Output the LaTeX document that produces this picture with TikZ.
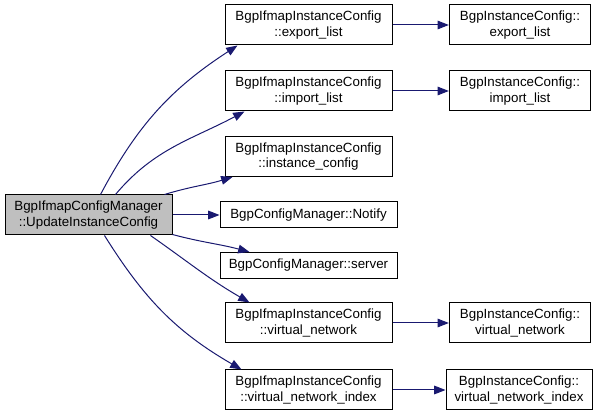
\documentclass[tikz,border=0pt]{standalone}
\usepackage{fontspec}
\setmainfont{Liberation Sans}
\usepackage{tikz}
\usetikzlibrary{positioning,arrows.meta,calc}

\definecolor{edgeblue}{HTML}{191970}
\definecolor{rootgray}{HTML}{BFBFBF}

\begin{document}
\begin{tikzpicture}[
		x=0.75pt,y=-0.75pt,
		font=\fontsize{10pt}{11.5pt}\selectfont,
		fn/.style={
			draw,
			line width=0.75pt,
			align=center,
			inner sep=0pt,
			minimum width=125.25pt,
			minimum height=30pt
		},
		fnwide/.style={fn,minimum width=132.75pt,minimum height=19.5pt},
		fnright/.style={fn,minimum width=106pt},
		call/.style={
			draw=edgeblue,
			line width=0.75pt,
			-{Triangle[length=8.5pt,width=6.5pt,fill=edgeblue]}
		}
		]
		
		\useasboundingbox (0,0) rectangle (600,416);
		
		\node[fn,fill=rootgray] (root) at (88.5,215)
		{BgpIfmapConfigManager\\::UpdateInstanceConfig};
		
		\node[fn] (el) at (308.5,25)
		{BgpIfmapInstanceConfig\\::export\_list};
		
		\node[fn] (il) at (308.5,91)
		{BgpIfmapInstanceConfig\\::import\_list};
		
		\node[fn] (ic) at (308.5,156.5)
		{BgpIfmapInstanceConfig\\::instance\_config};
		
		\node[fnwide] (nt) at (308.5,215)
		{BgpConfigManager::Notify};
		
		\node[fnwide] (sv) at (308.5,265.5)
		{BgpConfigManager::server};
		
		\node[fn] (vn) at (308.5,323)
		{BgpIfmapInstanceConfig\\::virtual\_network};
		
		\node[fn] (vni) at (308.5,390)
		{BgpIfmapInstanceConfig\\::virtual\_network\_index};
		
		\node[fnright] (iel) at (520,25)
		{BgpInstanceConfig::\\export\_list};
		
		\node[fnright] (iil) at (520,91)
		{BgpInstanceConfig::\\import\_list};
		
		\node[fnright] (ivn) at (520,323)
		{BgpInstanceConfig::\\virtual\_network};
		
		\node[fnright,minimum width=109.5pt] (ivni) at (519,390)
		{BgpInstanceConfig::\\virtual\_network\_index};
		
		\draw[call] ($(root.north)+(12,0)$) to[out=62,in=213] ($(el.south west)+(13,0)$);
		\draw[call] ($(root.north)+(27,0)$) to[out=50,in=208] ($(il.south west)+(20,0)$);
		\draw[call] ($(root.north east)+(-8,0)$) to[out=17,in=197] ($(ic.south west)+(8,0)$);
		\draw[call] (root.east) -- (nt.west);
		\draw[call] ($(root.south east)+(0,-1)$) to[out=-15,in=165] ($(sv.north west)+(30,0)$);
		\draw[call] ($(root.south)+(62,0)$) to[out=-35,in=150] ($(vn.north west)+(25,0)$);
		\draw[call] ($(root.south)+(16,0)$) to[out=-58,in=150] ($(vni.north west)+(17,0)$);
		
		\draw[call] (el) -- (iel);
		\draw[call] (il) -- (iil);
		\draw[call] (vn) -- (ivn);
		\draw[call] (vni) -- (ivni);
		
	\end{tikzpicture}
\end{document}
